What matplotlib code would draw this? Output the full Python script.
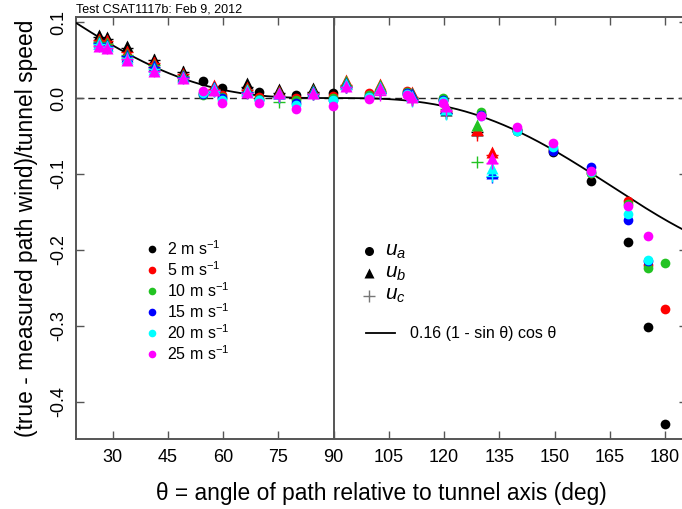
import numpy as np
import matplotlib
matplotlib.use("Agg")
import matplotlib.pyplot as plt

plt.rcParams['font.family'] = ['Liberation Sans', 'DejaVu Sans']
plt.rcParams['mathtext.fontset'] = 'custom'
plt.rcParams['mathtext.rm'] = 'Liberation Sans'
plt.rcParams['mathtext.it'] = 'Liberation Sans:italic'
plt.rcParams['axes.unicode_minus'] = False

# tunnel speeds and their colours
speeds = [2, 5, 10, 15, 20, 25]
colors = ['black', '#FF0000', '#22C322', '#0000FF', '#00FFFF', '#FF00FF']

nan = np.nan

# path a (circles): angle of path, then one row per speed
ang_a = [54.6, 59.8, 69.7, 79.7, 89.7, 99.5, 109.8, 119.8, 129.9, 139.8,
         149.7, 159.9, 169.9, 175.4, 180.0]
ua = [
    [0.023, 0.013, 0.008, 0.004, 0.006, 0.003, 0.005, -0.002, -0.022, -0.043,
     -0.071, -0.109, -0.189, -0.301, -0.429],
    [0.006, 0.004, 0.002, 0.000, 0.003, 0.006, 0.009, -0.001, -0.021, -0.042,
     -0.068, -0.098, -0.136, -0.220, -0.278],
    [0.004, 0.001, -0.001, -0.003, 0.000, 0.004, 0.008, 0.000, -0.019, -0.041,
     -0.067, -0.099, -0.140, -0.224, -0.217],
    [0.005, 0.000, -0.002, -0.007, -0.002, 0.002, 0.006, -0.003, -0.022, -0.042,
     -0.070, -0.091, -0.161, -0.214, nan],
    [0.006, -0.002, -0.003, -0.009, -0.003, 0.001, 0.005, -0.004, -0.023, -0.044,
     -0.065, -0.097, -0.153, -0.213, nan],
    [0.009, -0.007, -0.007, -0.014, -0.011, -0.001, 0.004, -0.006, -0.024, -0.038,
     -0.059, -0.096, -0.142, -0.182, nan],
]

# path b (triangles)
ang_b = [26.2, 28.4, 33.9, 41.1, 49.0, 57.5, 66.4, 75.1, 84.5, 93.3,
         102.5, 111.3, 120.4, 129.0, 133.0]
ub = [
    [0.083, 0.080, 0.068, 0.051, 0.035, 0.012, 0.020, 0.012, 0.013, 0.020,
     0.014, 0.004, -0.016, -0.042, nan],
    [0.078, 0.077, 0.062, 0.047, 0.032, 0.017, 0.014, 0.009, 0.011, 0.024,
     0.018, 0.008, -0.012, -0.041, -0.071],
    [0.075, 0.072, 0.058, 0.044, 0.030, 0.015, 0.012, 0.008, 0.010, 0.022,
     0.017, 0.007, -0.010, -0.036, nan],
    [0.073, 0.070, 0.056, 0.042, 0.029, 0.014, 0.011, 0.007, 0.009, 0.020,
     0.015, 0.005, -0.013, nan, -0.099],
    [0.072, 0.068, 0.053, 0.038, 0.028, 0.013, 0.010, 0.006, 0.008, 0.018,
     0.014, 0.003, -0.015, nan, -0.092],
    [0.069, 0.066, 0.050, 0.035, 0.026, 0.011, 0.008, 0.006, 0.007, 0.016,
     0.013, 0.002, -0.010, nan, -0.079],
]

# path c (crosses), same angles as path b
ang_c = ang_b
uc = [
    [0.080, 0.078, 0.066, 0.050, 0.034, 0.010, 0.015, 0.006, 0.008, 0.015,
     0.006, -0.001, -0.020, -0.045, nan],
    [0.077, 0.075, 0.061, 0.046, 0.031, 0.012, 0.010, 0.002, 0.006, 0.017,
     0.009, 0.001, -0.017, -0.049, -0.075],
    [0.074, 0.071, 0.057, 0.043, 0.029, 0.010, 0.008, -0.005, 0.005, 0.016,
     0.008, 0.000, -0.015, -0.084, nan],
    [0.072, 0.069, 0.055, 0.041, 0.028, 0.009, 0.008, 0.001, 0.005, 0.015,
     0.007, -0.002, -0.020, nan, -0.104],
    [0.071, 0.067, 0.053, 0.038, 0.027, 0.009, 0.007, 0.002, 0.005, 0.014,
     0.006, -0.004, -0.021, nan, -0.103],
    [0.069, 0.066, 0.051, 0.036, 0.026, 0.010, 0.007, 0.003, 0.005, 0.014,
     0.004, -0.003, -0.016, nan, -0.085],
]

fig = plt.figure(figsize=(6.82, 5.09), dpi=100)
ax = fig.add_axes([0.1114, 0.1375, 0.896, 0.829])

ax.set_xlim(20, 186)
ax.set_ylim(-0.4487, 0.1066)

# model curve
th = np.linspace(20, 186, 400)
ax.plot(th, 0.16 * (1 - np.sin(np.radians(th))) * np.cos(np.radians(th)),
        color='black', lw=1.3, zorder=3)

ax.axhline(0, color='#222222', lw=1.0, ls=(0, (5, 3.5)), zorder=1)
ax.axvline(90, color='#555555', lw=1.4, zorder=1)

# crosses first, so the triangles of each speed sit over them
for i, c in enumerate(colors):
    ax.plot(ang_c, uc[i], '+', color=c, ms=9, mew=1.0, zorder=4)
    ax.plot(ang_a, ua[i], 'o', color=c, ms=7, mec='none', zorder=4)
    ax.plot(ang_b, ub[i], '^', color=c, ms=8, mec='none', zorder=4)

# axes styling
for s in ax.spines.values():
    s.set_color('#555555')
    s.set_linewidth(1.4)
ax.set_xticks(np.arange(30, 181, 15))
ax.set_yticks([-0.4, -0.3, -0.2, -0.1, 0.0, 0.1])
ax.yaxis.set_major_formatter(matplotlib.ticker.FormatStrFormatter('%.1f'))
ax.tick_params(direction='in', length=6, width=1.0, color='#555555',
               top=True, right=True, labelsize=13)
ax.tick_params(axis='x', pad=7)
ax.tick_params(axis='y', pad=6)
for lab in ax.get_yticklabels():
    lab.set_rotation(90)
    lab.set_va('center')

ax.set_xlabel('θ = angle of path relative to tunnel axis (deg)', fontsize=16.4, labelpad=12)
ax.set_ylabel('(true - measured path wind)/tunnel speed', fontsize=16.4, labelpad=9)
ax.text(0.0, 1.004, 'Test CSAT1117b: Feb 9, 2012', transform=ax.transAxes,
        fontsize=9, ha='left', va='bottom')

# speed key
for k, (spd, c) in enumerate(zip(speeds, colors)):
    y = 0.450 - k * 0.0497
    ax.plot([0.124], [y], 'o', color=c, ms=5.5, mec='none', transform=ax.transAxes)
    ax.text(0.149, y, f'{spd} m s$^{{-1}}$', transform=ax.transAxes,
            fontsize=11.5, va='center', ha='left')

# component key
for y, m, lab in [(0.4455, 'o', '$u_a$'), (0.393, '^', '$u_b$'), (0.339, '+', '$u_c$')]:
    ms = 6.5 if m != '+' else 9
    col = 'black' if m != '+' else '#777777'
    ax.plot([0.480], [y], m, color=col, ms=ms, mec=col if m == '+' else 'none',
            mew=1.0, transform=ax.transAxes)
    ax.text(0.506, y, lab, transform=ax.transAxes, fontsize=15, va='center', ha='left')
ax.plot([0.475, 0.522], [0.251, 0.251], color='black', lw=1.3, transform=ax.transAxes)
ax.text(0.547, 0.251, '0.16 (1 - sin θ) cos θ', transform=ax.transAxes,
        fontsize=11.5, va='center', ha='left')

fig.savefig('out.png', dpi=100)
